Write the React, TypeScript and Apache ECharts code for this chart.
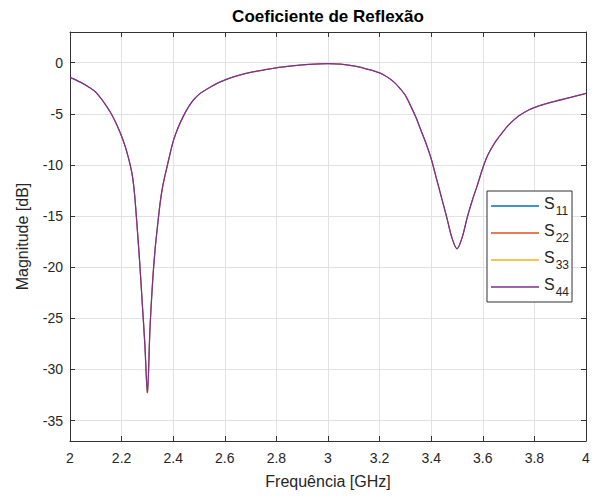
import React, { useEffect, useRef } from "react";
import * as echarts from "echarts";

// Frequency [GHz] and magnitude [dB]
const freqGHz = [
  2.0, 2.04, 2.08, 2.1, 2.12, 2.14, 2.16, 2.18, 2.2, 2.22, 2.24, 2.25, 2.26, 2.27, 2.28, 2.29, 2.3,
  2.31, 2.32, 2.33, 2.34, 2.35, 2.36, 2.375, 2.4, 2.42, 2.44, 2.46, 2.48, 2.5, 2.52, 2.55, 2.58,
  2.62, 2.66, 2.7, 2.75, 2.8, 2.85, 2.9, 2.95, 3.0, 3.05, 3.085, 3.12, 3.15, 3.18, 3.2, 3.22, 3.24,
  3.26, 3.28, 3.3, 3.32, 3.34, 3.36, 3.38, 3.4, 3.42, 3.44, 3.46, 3.48, 3.5, 3.52, 3.54, 3.56, 3.58,
  3.6, 3.62, 3.65, 3.68, 3.7, 3.74, 3.78, 3.82, 3.86, 3.9, 3.94, 3.97, 4.0,
];
const magnitudeDb = [
  -1.43, -1.9, -2.5, -2.9, -3.5, -4.2, -5.0, -6.0, -7.2, -8.7, -10.8, -12.8, -16.0, -19.5, -23.5, -27.5, -32.3,
  -26.0, -21.5, -18.2, -15.8, -13.6, -12.0, -10.3, -7.7, -6.3, -5.2, -4.3, -3.6, -3.1, -2.75, -2.3, -1.9,
  -1.5, -1.2, -0.95, -0.72, -0.5, -0.35, -0.22, -0.14, -0.1, -0.15, -0.26, -0.42, -0.62, -0.82, -1.0, -1.25, -1.58,
  -2.0, -2.55, -3.2, -4.2, -5.3, -6.6, -7.9, -9.4, -11.3, -13.2, -15.1, -17.1, -18.2, -17.1, -15.1, -13.4, -11.9,
  -10.3, -9.0, -7.7, -6.7, -6.1, -5.2, -4.6, -4.2, -3.9, -3.65, -3.4, -3.2, -3.0,
];
// All four reflection coefficients coincide in the reference
const seriesNames = ["S11", "S22", "S33", "S44"];
const seriesSubscripts = ["11", "22", "33", "44"];
const seriesColors = ["#0072BD", "#D95319", "#EDB120", "#7E2F8E"];
const yTickValues = [-35, -30, -25, -20, -15, -10, -5, 0];

const FONT = "'Liberation Sans', Arial, Helvetica, sans-serif";
const TEXT = "#262626";
const AXIS = "#333333";
const GRID = "#e2e2e2";

export default function App() {
  const ref = useRef<HTMLDivElement>(null);
  useEffect(() => {
    if (!ref.current) return;
    const chart = echarts.init(ref.current, undefined, { renderer: "svg" });
    const pts = freqGHz.map((f, i) => [f, magnitudeDb[i]]);
    const xCommon = {
      type: "value" as const,
      min: 2,
      max: 4,
      interval: 0.2,
      axisLine: { show: true, onZero: false, lineStyle: { color: AXIS, width: 1 } },
      axisTick: { show: true, inside: true, length: 5, lineStyle: { color: AXIS } },
    };
    const yCommon = {
      type: "value" as const,
      min: -37,
      max: 3,
      axisLine: { show: true, onZero: false, lineStyle: { color: AXIS, width: 1 } },
      axisTick: { show: true, inside: true, length: 5, customValues: yTickValues, lineStyle: { color: AXIS } },
    };
    chart.setOption({
      animation: false,
      backgroundColor: "#ffffff",
      textStyle: { fontFamily: FONT },
      grid: { left: 70, right: 10, top: 32, bottom: 55, containLabel: false },
      xAxis: [
        {
          ...xCommon,
          position: "bottom",
          name: "Frequência [GHz]",
          nameLocation: "middle",
          nameGap: 32,
          nameTextStyle: { fontSize: 16, color: TEXT, fontFamily: FONT },
          axisLabel: {
            margin: 10,
            fontSize: 14,
            color: TEXT,
            fontFamily: FONT,
            formatter: (v: number) => String(Math.round(v * 10) / 10),
          },
          splitLine: { show: true, lineStyle: { color: GRID, width: 1 } },
        },
        {
          ...xCommon,
          position: "top",
          name: "Coeficiente de Reflexão",
          nameLocation: "middle",
          nameGap: 7,
          nameTextStyle: { fontSize: 17, fontWeight: "bold", color: "#000000", fontFamily: FONT },
          axisLabel: { show: false },
          splitLine: { show: false },
        },
      ],
      yAxis: [
        {
          ...yCommon,
          position: "left",
          name: "Magnitude [dB]",
          nameLocation: "middle",
          nameGap: 40,
          nameTextStyle: { fontSize: 16, color: TEXT, fontFamily: FONT },
          axisLabel: { customValues: yTickValues, margin: 7, fontSize: 14, color: TEXT, fontFamily: FONT },
          splitLine: { show: true, lineStyle: { color: GRID, width: 1 } },
        },
        {
          ...yCommon,
          position: "right",
          axisLabel: { show: false },
          splitLine: { show: false },
        },
      ],
      legend: {
        orient: "vertical",
        left: 487,
        top: 191,
        padding: [4, 3, 4, 4],
        itemGap: 5,
        itemWidth: 48,
        itemHeight: 1.5,
        icon: "rect",
        backgroundColor: "#ffffff",
        borderColor: AXIS,
        borderWidth: 1,
        borderRadius: 0,
        data: seriesNames,
        formatter: (name: string) => {
          const i = seriesNames.indexOf(name);
          return `{a|S}{b|${seriesSubscripts[i]}}`;
        },
        textStyle: {
          fontFamily: FONT,
          color: TEXT,
          rich: {
            a: { fontSize: 16, lineHeight: 16, verticalAlign: "top", color: TEXT, fontFamily: FONT },
            b: { fontSize: 12, lineHeight: 22, padding: [0, 0, 0, 1], verticalAlign: "bottom", color: TEXT, fontFamily: FONT },
          },
        },
      },
      series: seriesNames.map((name, i) => ({
        name,
        type: "line",
        xAxisIndex: 0,
        yAxisIndex: 0,
        data: pts,
        symbol: "none",
        smooth: 0.3,
        color: seriesColors[i],
        lineStyle: { color: seriesColors[i], width: i === seriesNames.length - 1 ? 1.3 : 0.6 },
      })),
    });
    return () => chart.dispose();
  }, []);
  return (
    <div
      ref={ref}
      style={{ position: "fixed", left: 0, top: 0, width: 596, height: 496, background: "#fff" }}
    />
  );
}
